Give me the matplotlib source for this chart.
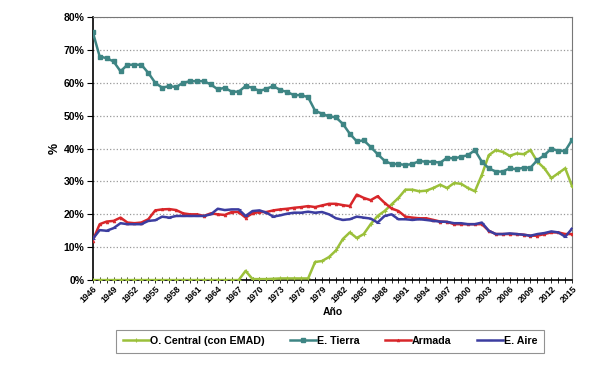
import matplotlib
matplotlib.use("Agg")
import matplotlib.pyplot as plt
from matplotlib.ticker import FuncFormatter

plt.rcParams['font.family'] = ['Liberation Sans', 'DejaVu Sans']

years = list(range(1946, 2016))

o_central = [0, 0, 0, 0, 0, 0, 0, 0, 0, 0,
             0, 0, 0, 0, 0, 0, 0, 0, 0, 0,
             0, 0, 2.8, 0.3, 0.3, 0.3, 0.4, 0.5, 0.5, 0.5,
             0.5, 0.5, 5.5, 5.8, 7, 9, 12.5, 14.5, 12.8, 14,
             17, 19.5, 21, 23, 25, 27.5, 27.5, 27, 27.2, 28,
             29, 28, 29.5, 29.3, 28, 27, 32, 38, 39.5, 39,
             37.8, 38.5, 38.3, 39.5, 36, 34, 31, 32.5, 34, 28.5]

e_tierra = [75.5, 68, 67.5, 66.5, 63.5, 65.5, 65.5, 65.5, 63, 60,
            58.5, 59, 58.7, 60, 60.5, 60.5, 60.5, 59.5, 58, 58.5,
            57.3, 57.3, 59, 58.5, 57.5, 58.2, 59, 57.8, 57.2, 56.2,
            56.3, 55.6, 51.5, 50.6, 49.8, 49.5, 47.5, 44.5, 42.2, 42.5,
            40.5, 38.3, 36.3, 35.3, 35.3, 35, 35.3, 36.2, 36, 36,
            35.7, 37.2, 37, 37.5, 38, 39.5, 36, 34, 33, 33,
            34, 33.7, 34.2, 34.2, 36.5, 38, 40, 39.3, 39.3, 42.7]

armada = [12, 17, 17.8, 18, 19, 17.5, 17.3, 17.5, 18.5, 21.2,
          21.5, 21.6, 21.3, 20.3, 20, 20, 19.5, 20.3, 20, 19.8,
          20.7, 20.7, 19, 20.3, 20.7, 20.7, 21.2, 21.5, 21.7, 22,
          22.2, 22.5, 22.2, 22.7, 23.2, 23.2, 22.8, 22.5, 26, 25,
          24.3, 25.5, 23.5, 21.8, 21, 19.3, 19, 18.8, 18.8, 18.3,
          17.8, 17.7, 17, 17, 17, 17, 17, 15, 14, 14,
          14, 14, 13.8, 13.5, 13.5, 14, 14.5, 14.5, 14, 14]

e_aire = [12.5, 15.2, 15, 15.8, 17.3, 17, 17, 17, 18, 18.2,
          19.3, 19, 19.5, 19.5, 19.5, 19.5, 19.5, 20, 21.7, 21.3,
          21.5, 21.5, 19.5, 21, 21.2, 20.5, 19.3, 19.7, 20.2, 20.5,
          20.5, 20.8, 20.5, 20.7, 20, 18.8, 18.3, 18.5, 19.3, 19,
          18.7, 17.5, 19.5, 20, 18.5, 18.5, 18.3, 18.5, 18.3, 18,
          17.8, 17.7, 17.3, 17.3, 17, 17, 17.5, 15, 14, 14,
          14.2, 14, 13.8, 13.5, 14, 14.3, 14.8, 14.5, 13.2, 15.7]

fig = plt.figure(figsize=(6.1, 3.79), dpi=100)
ax = fig.add_axes([0.152, 0.261, 0.786, 0.694])

ax.plot(years, o_central, color='#9BC03A', lw=1.8, marker='+', ms=3, mew=0.8,
        label='O. Central (con EMAD)', zorder=3)
ax.plot(years, e_tierra, color='#3E8584', lw=1.8, marker='s', ms=2.5,
        label='E. Tierra', zorder=3)
ax.plot(years, armada, color='#D8262A', lw=1.8, marker='^', ms=2, mew=0.5,
        label='Armada', zorder=3)
ax.plot(years, e_aire, color='#3C3DA0', lw=1.8, marker='_', ms=3, mew=0.8,
        label='E. Aire', zorder=3)

ax.set_xlim(1946, 2015)
ax.set_ylim(0, 80)
ax.set_xticks(range(1946, 2016, 3))
ax.set_xticklabels([str(y) for y in range(1946, 2016, 3)], rotation=45,
                   ha='right', rotation_mode='anchor', fontsize=6.3, fontweight='bold')
ax.set_yticks(range(0, 81, 10))
ax.yaxis.set_major_formatter(FuncFormatter(lambda v, p: f'{int(v)}%'))
for lab in ax.get_yticklabels():
    lab.set_fontsize(7.5)
    lab.set_fontweight('bold')
ax.set_xticks(years, minor=True)
ax.tick_params(axis='x', which='both', direction='inout', length=4, width=0.6, pad=1)
ax.tick_params(axis='y', direction='out', length=4, width=0.8, pad=2)

ax.grid(axis='y', color='#999999', linestyle=':', linewidth=0.9)
ax.set_axisbelow(True)
ax.spines['left'].set_linewidth(1.2)
ax.spines['bottom'].set_linewidth(1.2)
for s in ['top', 'right']:
    ax.spines[s].set_color('#777777')
    ax.spines[s].set_linewidth(0.8)

ax.set_xlabel('Año', fontsize=7.5, fontweight='bold', labelpad=2)
ax.set_ylabel('%', fontsize=9, fontweight='bold', labelpad=2)

leg = fig.legend(loc='center', bbox_to_anchor=(0.541, 0.1), ncol=4,
                 prop={'weight': 'bold', 'size': 7.7}, frameon=True, fancybox=False,
                 edgecolor='#777777', handlelength=2.4, handletextpad=0.1,
                 columnspacing=2.4, borderpad=0.6)
leg.get_frame().set_linewidth(0.8)

fig.savefig('out.png', dpi=100)
